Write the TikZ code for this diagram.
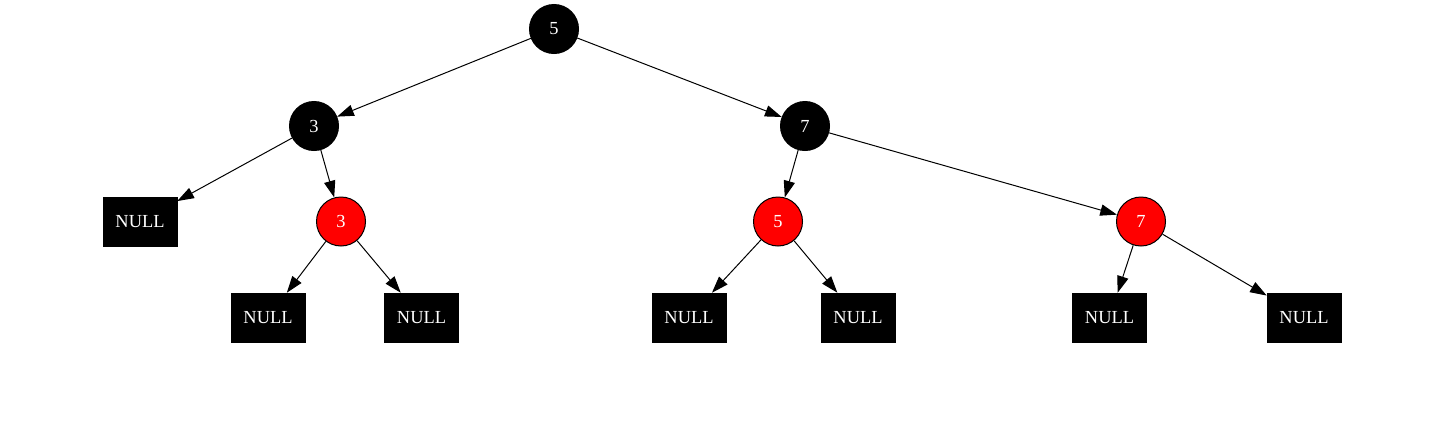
\documentclass[tikz,border=0pt]{standalone}
\usepackage{fontspec}
\setmainfont{Liberation Serif}
\usetikzlibrary{arrows.meta}
\definecolor{rbred}{RGB}{255,0,0}
\begin{document}
\begin{tikzpicture}[x=0.75pt,y=-0.75pt,
  every node/.style={font=\fontsize{13.8}{16}\selectfont, text=white, inner sep=0pt},
  blk/.style={circle, fill=black, draw=black, line width=0.75pt, minimum size=36.75pt},
  rd/.style={circle, fill=rbred, draw=black, line width=0.75pt, minimum size=36.75pt},
  nil/.style={rectangle, fill=black, draw=black, minimum width=55.5pt, minimum height=36.75pt},
  edge/.style={draw=black, line width=0.75pt, -{Triangle[length=12.5pt,width=8.5pt]}}]
\useasboundingbox (0,0) rectangle (1443,443);
\node[blk] (r) at (554,29) {5};
\node[blk] (a) at (314,126) {3};
\node[blk] (b) at (805,126) {7};
\node[nil] (n1) at (140,221.5) {NULL};
\node[rd] (a2) at (341,221.5) {3};
\node[rd] (b1) at (778,221.5) {5};
\node[rd] (b2) at (1141,221.5) {7};
\node[nil] (n2) at (268,317.5) {NULL};
\node[nil] (n3) at (421.5,317.5) {NULL};
\node[nil] (n4) at (689,317.5) {NULL};
\node[nil] (n5) at (858,317.5) {NULL};
\node[nil] (n6) at (1109.5,317.5) {NULL};
\node[nil] (n7) at (1304,317.5) {NULL};
\draw[edge] (r) -- (a);
\draw[edge] (r) -- (b);
\draw[edge] (a) -- (n1);
\draw[edge] (a) -- (a2);
\draw[edge] (a2) -- (n2);
\draw[edge] (a2) -- (n3);
\draw[edge] (b) -- (b1);
\draw[edge] (b) -- (b2);
\draw[edge] (b1) -- (n4);
\draw[edge] (b1) -- (n5);
\draw[edge] (b2) -- (n6);
\draw[edge] (b2) -- (n7);
\end{tikzpicture}
\end{document}
